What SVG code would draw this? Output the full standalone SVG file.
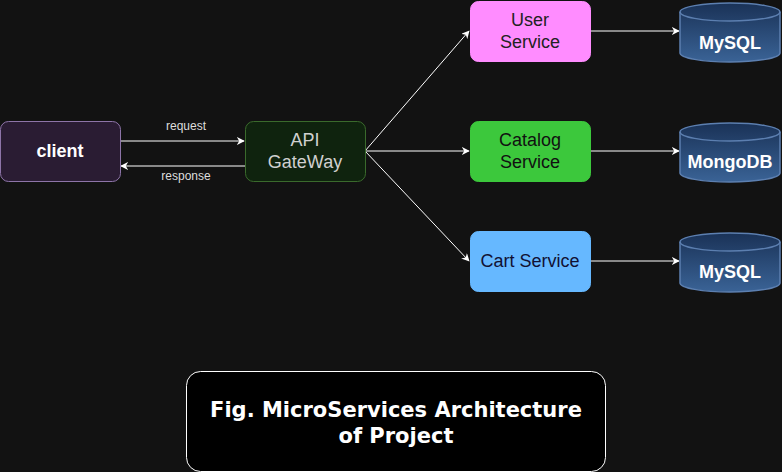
<svg xmlns="http://www.w3.org/2000/svg" width="782" height="472" viewBox="0 0 782 472">
<defs>
<style>
.lbl{font-family:"Liberation Sans",Arial,sans-serif;}
.edge{stroke:#ffffff;stroke-width:1;fill:none;}
.db{fill:url(#dbg);stroke:#5c7fb0;stroke-width:1.5;}
.dbt{font-family:"Liberation Sans",Arial,sans-serif;font-weight:bold;font-size:18px;fill:#ffffff;text-anchor:middle;}
.svc{font-family:"Liberation Sans",Arial,sans-serif;font-size:18px;text-anchor:middle;}
</style>
<linearGradient id="dbg" x1="0" y1="0" x2="0" y2="1">
<stop offset="0" stop-color="#1a3257"/>
<stop offset="1" stop-color="#3a6396"/>
</linearGradient>
<marker id="arr" viewBox="0 0 10 10" refX="9" refY="5" markerWidth="8" markerHeight="8" markerUnits="userSpaceOnUse" orient="auto">
<path d="M0,0 L10,5 L0,10 L3,5 z" fill="#ffffff"/>
</marker>
</defs>
<rect width="782" height="472" fill="#121212"/>
<g id="connectors">
<line class="edge" x1="120" y1="141" x2="244" y2="141" marker-end="url(#arr)"/>
<line class="edge" x1="245" y1="166" x2="121" y2="166" marker-end="url(#arr)"/>
<line class="edge" x1="365" y1="151" x2="469" y2="31" marker-end="url(#arr)"/>
<line class="edge" x1="365" y1="151" x2="469" y2="151" marker-end="url(#arr)"/>
<line class="edge" x1="365" y1="151" x2="469" y2="261" marker-end="url(#arr)"/>
<line class="edge" x1="590" y1="31" x2="679" y2="31" marker-end="url(#arr)"/>
<line class="edge" x1="590" y1="151" x2="679" y2="151" marker-end="url(#arr)" stroke="#cccccc"/>
<line class="edge" x1="590" y1="261" x2="679" y2="261" marker-end="url(#arr)" stroke="#cccccc"/>
<text class="lbl" x="186" y="130" font-size="12" fill="#dddddd" text-anchor="middle">request</text>
<text class="lbl" x="186" y="180" font-size="12" fill="#dddddd" text-anchor="middle">response</text>
</g>
<g id="client">
<rect x="0.5" y="121.5" width="120" height="60" rx="8" fill="#2a1c33" stroke="#8d74a8"/>
<text class="lbl" x="60" y="157" font-size="18" font-weight="bold" fill="#ffffff" text-anchor="middle">client</text>
</g>
<g id="gateway">
<rect x="245.5" y="121.5" width="120" height="60" rx="8" fill="#0f230e" stroke="#3a6a2c"/>
<text class="svc" x="305" y="146" fill="#d0d0d0">API</text>
<text class="svc" x="305" y="168" fill="#d0d0d0">GateWay</text>
</g>
<g id="user-service">
<rect x="470.5" y="1.5" width="120" height="60" rx="8" fill="#ff8cff" stroke="#ff8cff"/>
<text class="svc" x="530" y="26" fill="#222222">User</text>
<text class="svc" x="530" y="48" fill="#222222">Service</text>
</g>
<g id="catalog-service">
<rect x="470.5" y="121.5" width="120" height="60" rx="8" fill="#3cc83c" stroke="#3cc83c"/>
<text class="svc" x="530" y="146" fill="#111111">Catalog</text>
<text class="svc" x="530" y="168" fill="#111111">Service</text>
</g>
<g id="cart-service">
<rect x="470.5" y="231.5" width="120" height="60" rx="8" fill="#66b8ff" stroke="#66b8ff"/>
<text class="svc" x="530" y="267" fill="#111133">Cart Service</text>
</g>
<g id="db-user">
<path class="db" d="M680,12 A50,9 0 0 1 780,12 L780,53 A50,9 0 0 1 680,53 Z"/>
<path d="M680,12 A50,9 0 0 0 780,12" fill="none" stroke="#5c7fb0" stroke-width="1.5"/>
<text class="dbt" x="730" y="49">MySQL</text>
</g>
<g id="db-catalog">
<path class="db" d="M680,132 A50,9 0 0 1 780,132 L780,173 A50,9 0 0 1 680,173 Z"/>
<path d="M680,132 A50,9 0 0 0 780,132" fill="none" stroke="#5c7fb0" stroke-width="1.5"/>
<text class="dbt" x="730" y="168">MongoDB</text>
</g>
<g id="db-cart">
<path class="db" d="M680,242 A50,9 0 0 1 780,242 L780,283 A50,9 0 0 1 680,283 Z"/>
<path d="M680,242 A50,9 0 0 0 780,242" fill="none" stroke="#5c7fb0" stroke-width="1.5"/>
<text class="dbt" x="730" y="278">MySQL</text>
</g>
<g id="title">
<rect x="186.5" y="371.5" width="419" height="100" rx="14" fill="#000000" stroke="#ffffff"/>
<text x="396" y="417" font-family="'DejaVu Sans',Verdana,sans-serif" font-weight="bold" font-size="21" fill="#ffffff" text-anchor="middle">Fig. MicroServices Architecture</text>
<text x="396" y="443" font-family="'DejaVu Sans',Verdana,sans-serif" font-weight="bold" font-size="21" fill="#ffffff" text-anchor="middle">of Project</text>
</g>
</svg>
